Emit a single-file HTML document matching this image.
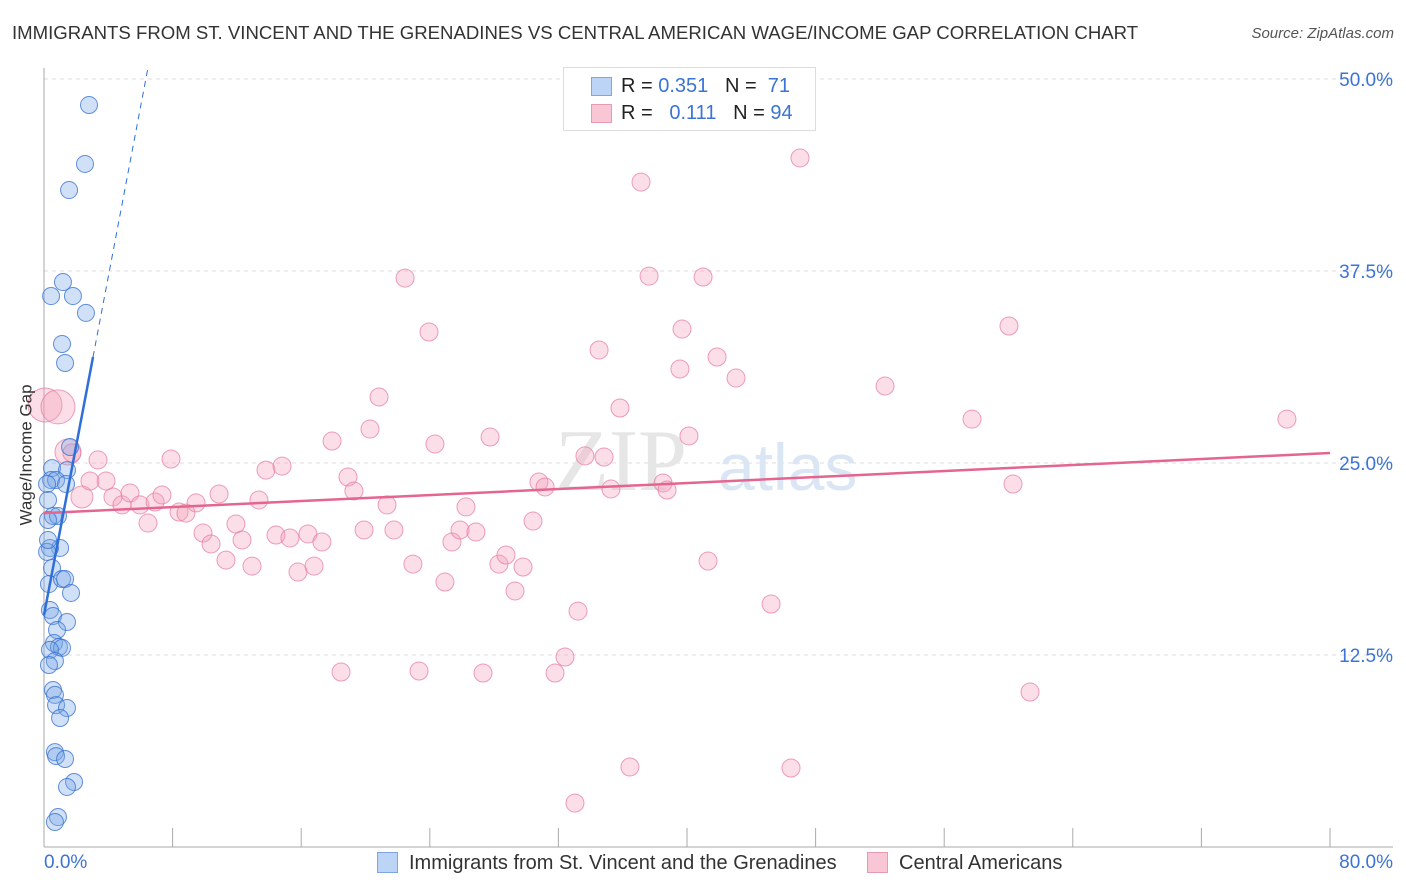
<!DOCTYPE html>
<html><head><meta charset="utf-8"><style>
body{margin:0;background:#fff;font-family:"Liberation Sans",sans-serif;}
#wrap{position:relative;width:1406px;height:892px;overflow:hidden;}
.t{position:absolute;white-space:nowrap;}
</style></head><body>
<div id="wrap">
<div class="t" style="left:12px;top:22px;font-size:18.6px;color:#333;">IMMIGRANTS FROM ST. VINCENT AND THE GRENADINES VS CENTRAL AMERICAN WAGE/INCOME GAP CORRELATION CHART</div>
<div class="t" style="right:12px;top:25px;font-size:15px;color:#555;font-style:italic;">Source: ZipAtlas.com</div>
<svg id="svg" width="1406" height="892" style="position:absolute;left:0;top:0"></svg>
</div>
<script>
const blueX=[2.80,2.55,1.56,1.18,0.44,1.80,2.61,1.12,1.31,1.62,0.50,1.43,0.44,0.75,1.37,0.19,0.56,0.87,0.25,1.00,0.37,0.19,0.50,0.31,1.12,1.31,1.68,0.37,0.56,1.43,0.81,0.62,0.93,1.12,0.37,0.68,0.31,0.56,0.68,0.75,1.43,1.00,0.68,0.75,1.31,1.87,1.43,0.87,0.68,0.25,0.25];
const blueY=[48.31,44.47,42.77,36.78,35.87,35.87,34.77,32.75,31.51,26.04,24.67,24.54,23.89,23.89,23.63,23.63,21.55,21.55,21.29,19.47,19.47,19.21,18.16,17.12,17.45,17.45,16.54,15.43,15.04,14.65,14.13,13.28,13.02,12.96,12.83,12.11,11.85,10.22,9.90,9.24,9.05,8.40,6.18,5.92,5.73,4.23,3.91,1.95,1.63,19.99,22.59];
const pinkX=[0.06,0.87,1.49,2.36,1.74,3.36,3.86,2.86,4.29,4.85,5.35,5.97,6.47,6.91,7.34,7.90,8.40,8.83,9.46,9.89,10.39,10.89,11.32,11.94,12.32,12.94,13.37,13.81,14.81,14.43,15.30,15.80,16.42,16.80,17.29,17.92,18.48,18.91,19.28,19.91,20.28,20.84,21.34,21.77,22.46,22.95,23.33,23.95,24.32,24.94,25.38,25.88,26.25,26.87,27.31,27.75,28.30,28.74,29.30,29.80,30.42,30.79,31.17,31.79,32.41,33.22,33.65,34.53,34.84,35.27,35.83,36.45,37.14,37.64,38.51,38.76,39.56,39.69,40.12,41.00,41.31,41.87,43.05,45.23,46.47,47.03,52.32,57.73,60.03,60.28,61.34,77.32,33.03];
const pinkY=[28.78,28.65,25.72,22.79,25.65,25.20,23.83,23.83,22.79,22.27,23.05,22.27,21.09,22.46,22.92,25.26,21.81,21.74,22.40,20.44,19.73,22.98,18.68,21.03,19.99,18.29,22.59,24.54,24.80,20.31,20.12,17.90,20.38,18.29,19.86,26.43,11.39,24.09,23.18,20.64,27.21,29.30,22.27,20.64,37.04,18.42,11.46,33.53,26.24,17.25,19.86,20.64,22.14,20.51,11.33,26.69,18.42,19.01,16.67,18.23,21.22,23.76,23.44,11.33,12.37,15.36,25.46,32.36,25.39,23.31,28.58,5.21,43.29,37.17,23.70,23.24,31.12,33.72,26.76,37.11,18.62,31.90,30.53,15.82,5.14,44.86,30.01,27.86,33.92,23.63,10.09,27.86,2.86];
const pinkBig=[17,17,13,11];
const yTicks=[12.5,25.0,37.5,50.0];
const blueTrend=[15.1,31.9,3.05]; // y at 0%, y at end, end x
const pinkTrend=[21.74,25.65]; // at 0% and 80%
const NS="http://www.w3.org/2000/svg";
const svg=document.getElementById('svg');
const sx=v=>44+v*16.075, sy=v=>847-v*15.36;
function mk(t,a){const e=document.createElementNS(NS,t);for(const k in a)e.setAttribute(k,a[k]);svg.appendChild(e);return e;}
yTicks.forEach(v=>{
 const g=mk('line',{x1:44,x2:1393,y1:sy(v),y2:sy(v),stroke:'#ddd','stroke-dasharray':'4,4'});
 
 
 const t=mk('text',{x:1393,y:sy(v)+7,'text-anchor':'end','font-size':19,fill:'#3b73d6','font-family':'Liberation Sans'});
 t.textContent=v.toFixed(1)+'%';
 
 
});
const ax=mk('line',{x1:44,x2:44,y1:68,y2:847,stroke:'#aaa'});


const bx=mk('line',{x1:44,x2:1393,y1:847,y2:847,stroke:'#aaa'});


for(let i=1;i<=10;i++){const tk=mk('line',{x1:sx(i*8),x2:sx(i*8),y1:828,y2:847,stroke:'#aaa'});
 
 }
const wm=mk('text',{x:555,y:490,'font-size':88,fill:'#e6e6e6','font-family':'Liberation Serif'});wm.textContent='ZIP';


const wm2=mk('text',{x:718,y:490,'font-size':66,fill:'#dbe6f5','font-family':'Liberation Sans'});wm2.textContent='atlas';


pinkX.forEach((x,i)=>{const c=mk('circle',{cx:sx(x),cy:sy(pinkY[i]),r:pinkBig[i]||9,fill:'rgba(244,160,185,0.35)',stroke:'rgba(230,120,155,0.7)','stroke-width':1});
 
 });
blueX.forEach((x,i)=>{const c=mk('circle',{cx:sx(x),cy:sy(blueY[i]),r:8.5,fill:'rgba(120,165,230,0.35)',stroke:'rgba(50,110,210,0.75)','stroke-width':1});
 
 });
const pl=mk('line',{x1:sx(0),y1:sy(pinkTrend[0]),x2:sx(80),y2:sy(pinkTrend[1]),stroke:'#e4658f','stroke-width':2.5});


const by=x=>blueTrend[0]+x*(blueTrend[1]-blueTrend[0])/blueTrend[2];
const bxEnd=blueTrend[2];
const bl=mk('line',{x1:sx(0),y1:sy(by(0)),x2:sx(bxEnd),y2:sy(by(bxEnd)),stroke:'#2f6fd8','stroke-width':2.5});


const xe=(50.8-blueTrend[0])*blueTrend[2]/(blueTrend[1]-blueTrend[0]);
const bd=mk('line',{x1:sx(bxEnd),y1:sy(by(bxEnd)),x2:sx(xe),y2:sy(by(xe)),stroke:'#2f6fd8','stroke-width':1,'stroke-dasharray':'6,5'});


</script>
<div class="t" style="left:-44px;top:445px;font-size:17px;color:#333;transform:rotate(-90deg);">Wage/Income Gap</div>
<div class="t" style="left:44px;top:852px;font-size:19px;color:#3b73d6;">0.0%</div>
<div class="t" style="right:13px;top:852px;font-size:19px;color:#3b73d6;">80.0%</div>
<div style="position:absolute;left:563px;top:67px;width:251px;height:62px;border:1px solid #ddd;background:#fff;font-size:20px;color:#222;">
 <div style="position:absolute;left:27px;top:9px;width:19px;height:17px;background:#bcd4f5;border:1px solid #7ea6e3"></div>
 <div class="t" style="left:57px;top:7px;">R = <span style="color:#3b73d6">0.351</span>&nbsp;&nbsp;&nbsp;N = &nbsp;<span style="color:#3b73d6">71</span></div>
 <div style="position:absolute;left:27px;top:36px;width:19px;height:17px;background:#f8c6d5;border:1px solid #e99ab3"></div>
 <div class="t" style="left:57px;top:34px;">R = &nbsp;&nbsp;<span style="color:#3b73d6">0.111</span>&nbsp;&nbsp;&nbsp;N = <span style="color:#3b73d6">94</span></div>
</div>
<div style="position:absolute;left:377px;top:852px;font-size:20px;color:#333;">
 <span style="display:inline-block;width:19px;height:19px;background:#bcd4f5;border:1px solid #7ea6e3;vertical-align:-4px;margin-right:11px"></span>Immigrants from St. Vincent and the Grenadines</div>
<div style="position:absolute;left:867px;top:852px;font-size:20px;color:#333;">
 <span style="display:inline-block;width:19px;height:19px;background:#f8c6d5;border:1px solid #e99ab3;vertical-align:-4px;margin-right:11px"></span>Central Americans</div>
</body></html>
